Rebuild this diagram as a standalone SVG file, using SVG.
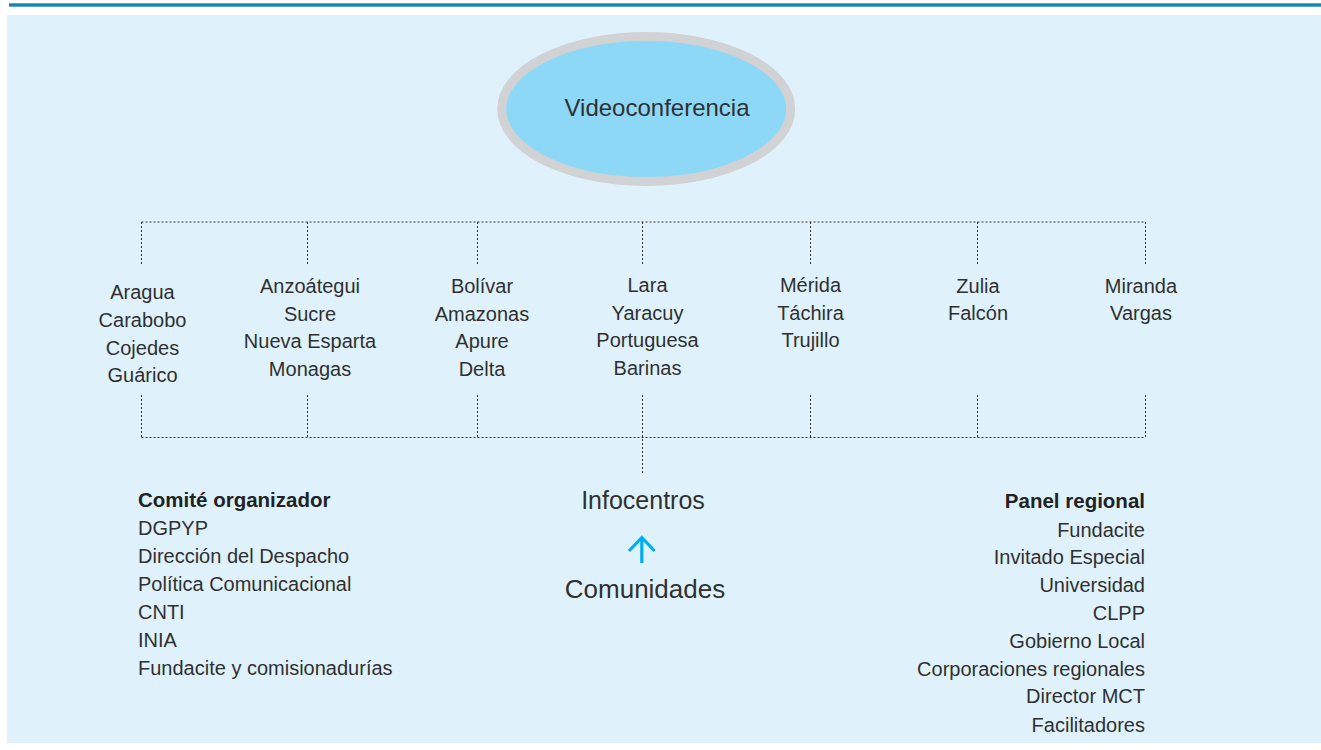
<svg xmlns="http://www.w3.org/2000/svg" width="1321" height="750" viewBox="0 0 1321 750">
<style>
  text { font-family: "Liberation Sans", Arial, sans-serif; fill: #303030; }
  .st { font-size: 20px; text-anchor: middle; }
  .big { font-size: 24px; text-anchor: middle; }
  .ll { font-size: 20px; }
  .rl { font-size: 20px; text-anchor: end; }
  .hd { font-weight: bold; font-size: 20.5px; fill: #222; }
  .dot { fill: none; stroke: #333; stroke-width: 1; stroke-dasharray: 2 2; }
</style>
<defs/>
<rect x="0" y="0" width="1321" height="750" fill="#ffffff"/>
<rect x="9" y="3.3" width="1312" height="3.4" fill="#1583b8"/>
<rect x="7" y="15" width="1314" height="728" fill="#dff2fc"/>

<g id="connectors">
  <path class="dot" d="M141.5 222 H1145.5 M141.5 222 V264 M307.5 222 V264 M477.5 222 V264 M642.5 222 V264 M810.5 222 V264 M977.5 222 V264 M1145.5 222 V264"/>
  <path class="dot" d="M141.5 437.5 H1145.5 M141.5 395 V437.5 M307.5 395 V437.5 M477.5 395 V437.5 M642.5 395 V473 M810.5 395 V437.5 M977.5 395 V437.5 M1145.5 395 V437.5"/>
  <path d="M641.8 563 V538 M629 551 L641.8 537.5 L654.6 551" fill="none" stroke="#00aeef" stroke-width="3.2"/>
</g>

<g id="videoconferencia">
  <ellipse cx="646.2" cy="109" rx="144.5" ry="72.5" fill="#8dd8f7" stroke="#d0d2d4" stroke-width="9"/>
  <text class="big" x="657" y="116">Videoconferencia</text>
</g>

<g id="col1">
  <text class="st" x="142.5" y="299">Aragua</text>
  <text class="st" x="142.5" y="327">Carabobo</text>
  <text class="st" x="142.5" y="354.5">Cojedes</text>
  <text class="st" x="142.5" y="382">Guárico</text>
</g>
<g id="col2">
  <text class="st" x="310" y="293">Anzoátegui</text>
  <text class="st" x="310" y="320.5">Sucre</text>
  <text class="st" x="310" y="348">Nueva Esparta</text>
  <text class="st" x="310" y="375.5">Monagas</text>
</g>
<g id="col3">
  <text class="st" x="482" y="293">Bolívar</text>
  <text class="st" x="482" y="320.5">Amazonas</text>
  <text class="st" x="482" y="348">Apure</text>
  <text class="st" x="482" y="375.5">Delta</text>
</g>
<g id="col4">
  <text class="st" x="647.5" y="292">Lara</text>
  <text class="st" x="647.5" y="319.5">Yaracuy</text>
  <text class="st" x="647.5" y="347">Portuguesa</text>
  <text class="st" x="647.5" y="374.5">Barinas</text>
</g>
<g id="col5">
  <text class="st" x="810.5" y="292">Mérida</text>
  <text class="st" x="810.5" y="319.5">Táchira</text>
  <text class="st" x="810.5" y="347">Trujillo</text>
</g>
<g id="col6">
  <text class="st" x="978" y="292.5">Zulia</text>
  <text class="st" x="978" y="320">Falcón</text>
</g>
<g id="col7">
  <text class="st" x="1141" y="292.5">Miranda</text>
  <text class="st" x="1141" y="320">Vargas</text>
</g>

<g id="comite">
  <text class="ll hd" x="138" y="507">Comité organizador</text>
  <text class="ll" x="138" y="535">DGPYP</text>
  <text class="ll" x="138" y="563">Dirección del Despacho</text>
  <text class="ll" x="138" y="591">Política Comunicacional</text>
  <text class="ll" x="138" y="619">CNTI</text>
  <text class="ll" x="138" y="647">INIA</text>
  <text class="ll" x="138" y="675">Fundacite y comisionadurías</text>
</g>

<g id="infocentros">
  <text class="big" x="643" y="509" style="font-size:25px">Infocentros</text>
</g>
<g id="comunidades">
  <text class="big" x="645" y="598" style="font-size:26px">Comunidades</text>
</g>

<g id="panel">
  <text class="rl hd" x="1145" y="508">Panel regional</text>
  <text class="rl" x="1145" y="536.5">Fundacite</text>
  <text class="rl" x="1145" y="564.3">Invitado Especial</text>
  <text class="rl" x="1145" y="592.1">Universidad</text>
  <text class="rl" x="1145" y="620">CLPP</text>
  <text class="rl" x="1145" y="647.8">Gobierno Local</text>
  <text class="rl" x="1145" y="675.6">Corporaciones regionales</text>
  <text class="rl" x="1145" y="703.4">Director MCT</text>
  <text class="rl" x="1145" y="731.5">Facilitadores</text>
</g>
</svg>
